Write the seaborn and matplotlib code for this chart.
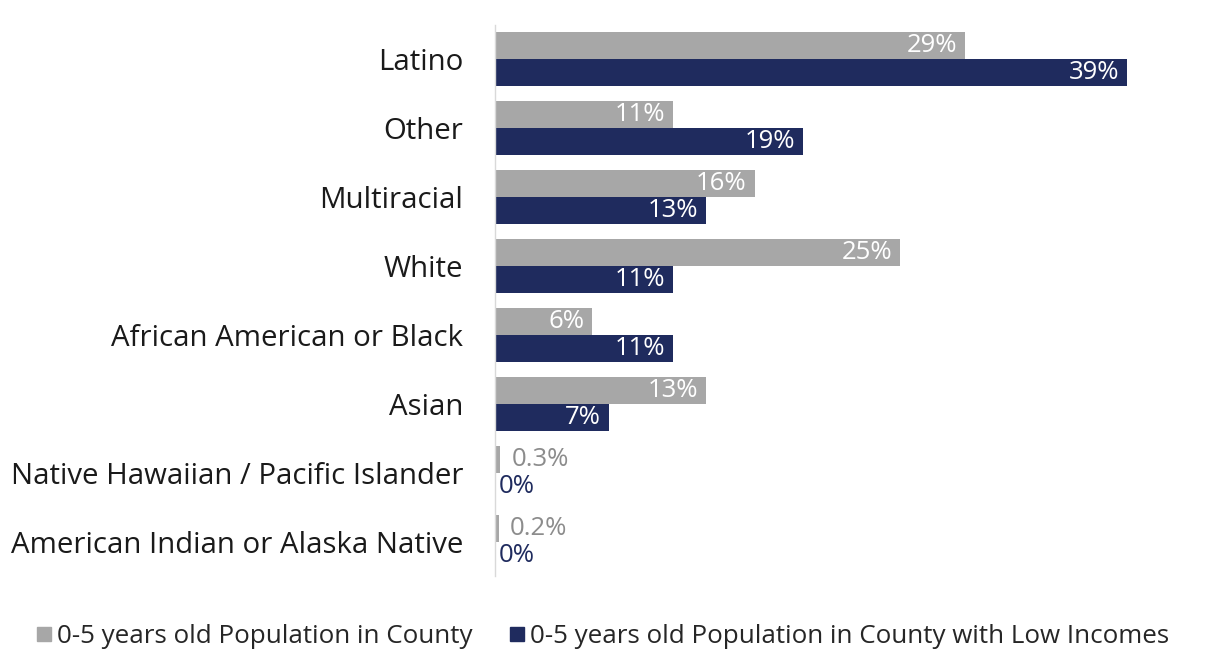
import seaborn as sns
import pandas as pd
import matplotlib.pyplot as plt

categories = ['Latino', 'Other', 'Multiracial', 'White', 'African American or Black',
              'Asian', 'Native Hawaiian / Pacific Islander', 'American Indian or Alaska Native']
county = [29, 11, 16, 25, 6, 13, 0.3, 0.2]
low_income = [39, 19, 13, 11, 11, 7, 0, 0]
series = ['0-5 years old Population in County', '0-5 years old Population in County with Low Incomes']
colors = ['#a7a7a7', '#1f2b5e']

rows = []
for c, v in zip(categories, county):
    rows.append({'group': c, 'series': series[0], 'value': v})
for c, v in zip(categories, low_income):
    rows.append({'group': c, 'series': series[1], 'value': v})
df = pd.DataFrame(rows)

sns.set_style('white')
plt.rcParams['font.family'] = ['Open Sans', 'DejaVu Sans']

fig = plt.figure(figsize=(12.08, 6.67), dpi=100)
ax = fig.add_axes([0.41, 0.136, 0.57, 0.827])
sns.barplot(data=df, y='group', x='value', hue='series', order=categories,
            hue_order=series, palette=colors, orient='h', width=0.78,
            saturation=1, linewidth=0, ax=ax, legend=False)
ax.set_xlim(0, 42.5)
ax.set_xlabel('')
ax.set_ylabel('')
ax.set_xticks([])
ax.tick_params(axis='y', length=0, pad=23, labelsize=21.2, labelcolor='#1a1a1a')
for lbl in ax.get_yticklabels():
    lbl.set_y(lbl.get_position()[1])
    lbl.set_verticalalignment('center_baseline')
for s in ['top', 'right', 'bottom']:
    ax.spines[s].set_visible(False)
ax.spines['left'].set_color('#d9d9d9')
ax.spines['left'].set_linewidth(1)

def fmt(v):
    if v == 0:
        return '0%'
    if v < 1:
        return f'{v:.1f}%'
    return f'{v:.0f}%'

for cont, col in zip(ax.containers, colors):
    for bar in cont:
        v = bar.get_width()
        yc = bar.get_y() + bar.get_height() / 2
        if v >= 3:
            ax.text(v - 0.5, yc, fmt(v), ha='right', va='center', color='white', fontsize=18.5)
        else:
            ax.text(v + (0.7 if v > 0 else 0.2), yc, fmt(v), ha='left', va='center',
                    color='#8c8c8c' if col == colors[0] else col, fontsize=18.5)

handles = [plt.Line2D([], [], marker='s', linestyle='', color=c, markersize=10) for c in colors]
fig.legend(handles, series, loc='center', bbox_to_anchor=(0.497, 0.045), ncol=2,
           frameon=False, fontsize=18.7, handletextpad=0.0, columnspacing=1.2, handlelength=1.0)

fig.savefig('out.png', dpi=100)
